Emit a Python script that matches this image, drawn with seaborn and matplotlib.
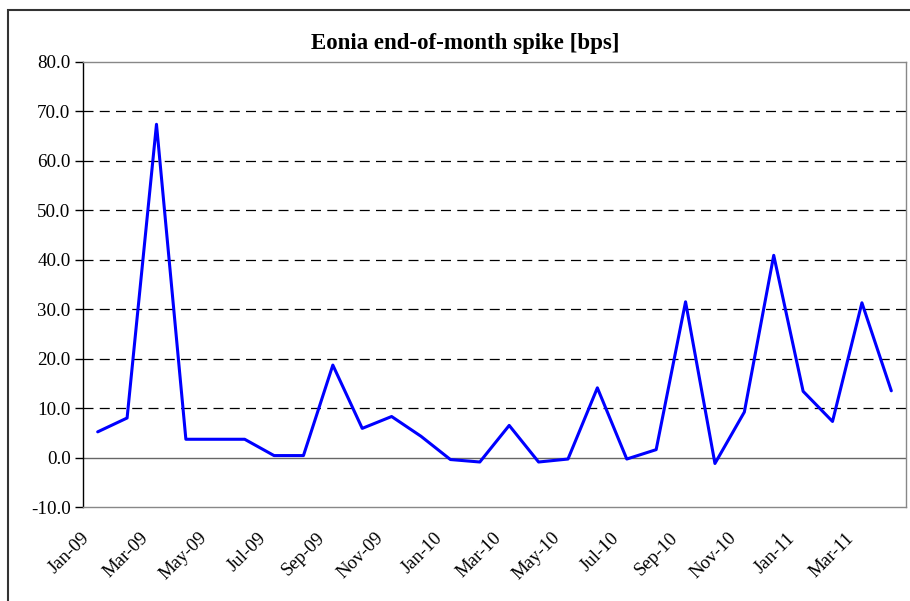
import numpy as np
import pandas as pd
import matplotlib
matplotlib.use('Agg')
import matplotlib.pyplot as plt
import matplotlib.transforms as mtransforms
import seaborn as sns
from matplotlib.patches import Rectangle

# datos mensuales del spike de fin de mes (bps)
months = ['Jan-09', 'Feb-09', 'Mar-09', 'Apr-09', 'May-09', 'Jun-09', 'Jul-09', 'Aug-09',
          'Sep-09', 'Oct-09', 'Nov-09', 'Dec-09', 'Jan-10', 'Feb-10', 'Mar-10', 'Apr-10',
          'May-10', 'Jun-10', 'Jul-10', 'Aug-10', 'Sep-10', 'Oct-10', 'Nov-10', 'Dec-10',
          'Jan-11', 'Feb-11', 'Mar-11', 'Apr-11']
spike = [5.2, 8.0, 67.4, 3.7, 3.7, 3.7, 0.4, 0.4,
         18.7, 5.9, 8.3, 4.3, -0.4, -0.9, 6.5, -0.9,
         -0.3, 14.1, -0.3, 1.6, 31.5, -1.2, 9.2, 40.9,
         13.4, 7.3, 31.3, 13.5]
yticks = np.arange(-10, 81, 10)

df = pd.DataFrame({'idx': np.arange(len(months)), 'mes': months, 'spike': spike})

sns.set_style('white')
plt.rcParams['font.family'] = ['Liberation Serif', 'DejaVu Serif']

fig = plt.figure(figsize=(9.1, 6.01), dpi=100)
# borde del grafico estilo excel
fig.patches.append(Rectangle((8 / 910, -0.05), 1.0, 1 - 10 / 601 + 0.05, transform=fig.transFigure,
                             fill=False, edgecolor='#333333', linewidth=1.5))
ax = fig.add_axes([83 / 910, 1 - 507 / 601, (906 - 83) / 910, (507 - 62) / 601])

for y in yticks:
    if y == 0:
        ax.axhline(0, color='#666666', lw=1.0, zorder=1)
    elif y != 80 and y != -10:
        ax.axhline(y, color='black', lw=0.9, ls=(0, (8, 5)), zorder=1)

sns.lineplot(data=df, x='idx', y='spike', color='#0000ff', lw=2.2, ax=ax, zorder=3)

ax.set_xlim(-0.5, len(months) - 0.5)
ax.set_ylim(-10, 80)
ax.set_yticks(yticks)
ax.set_yticklabels([f'{v:.1f}' for v in yticks], fontsize=13.7, color='black')
ax.set_xticks(df['idx'][::2])
ax.set_xticklabels(df['mes'][::2], rotation=45, ha='right', va='center',
                   rotation_mode='anchor', fontsize=13.5, color='black')
ax.tick_params(axis='x', length=0, pad=0)
ax.tick_params(axis='y', length=6, width=1, direction='out', left=True, pad=3, color='black')
ax.set_xlabel('')
ax.set_ylabel('')

# mover etiquetas del eje x como en excel
off = mtransforms.ScaledTranslation(-10.5 / 100, -28.5 / 100, fig.dpi_scale_trans)
for lab in ax.get_xticklabels():
    lab.set_transform(lab.get_transform() + off)

for s in ['top', 'right', 'bottom']:
    ax.spines[s].set_color('#888888')
    ax.spines[s].set_linewidth(1.0)
ax.spines['left'].set_color('black')
ax.spines['left'].set_linewidth(1.0)

fig.text(465 / 910, 1 - 43 / 601, 'Eonia end-of-month spike [bps]',
         ha='center', va='center', fontsize=16.5, fontweight='bold', color='black')

fig.savefig('out.png', dpi=100)
